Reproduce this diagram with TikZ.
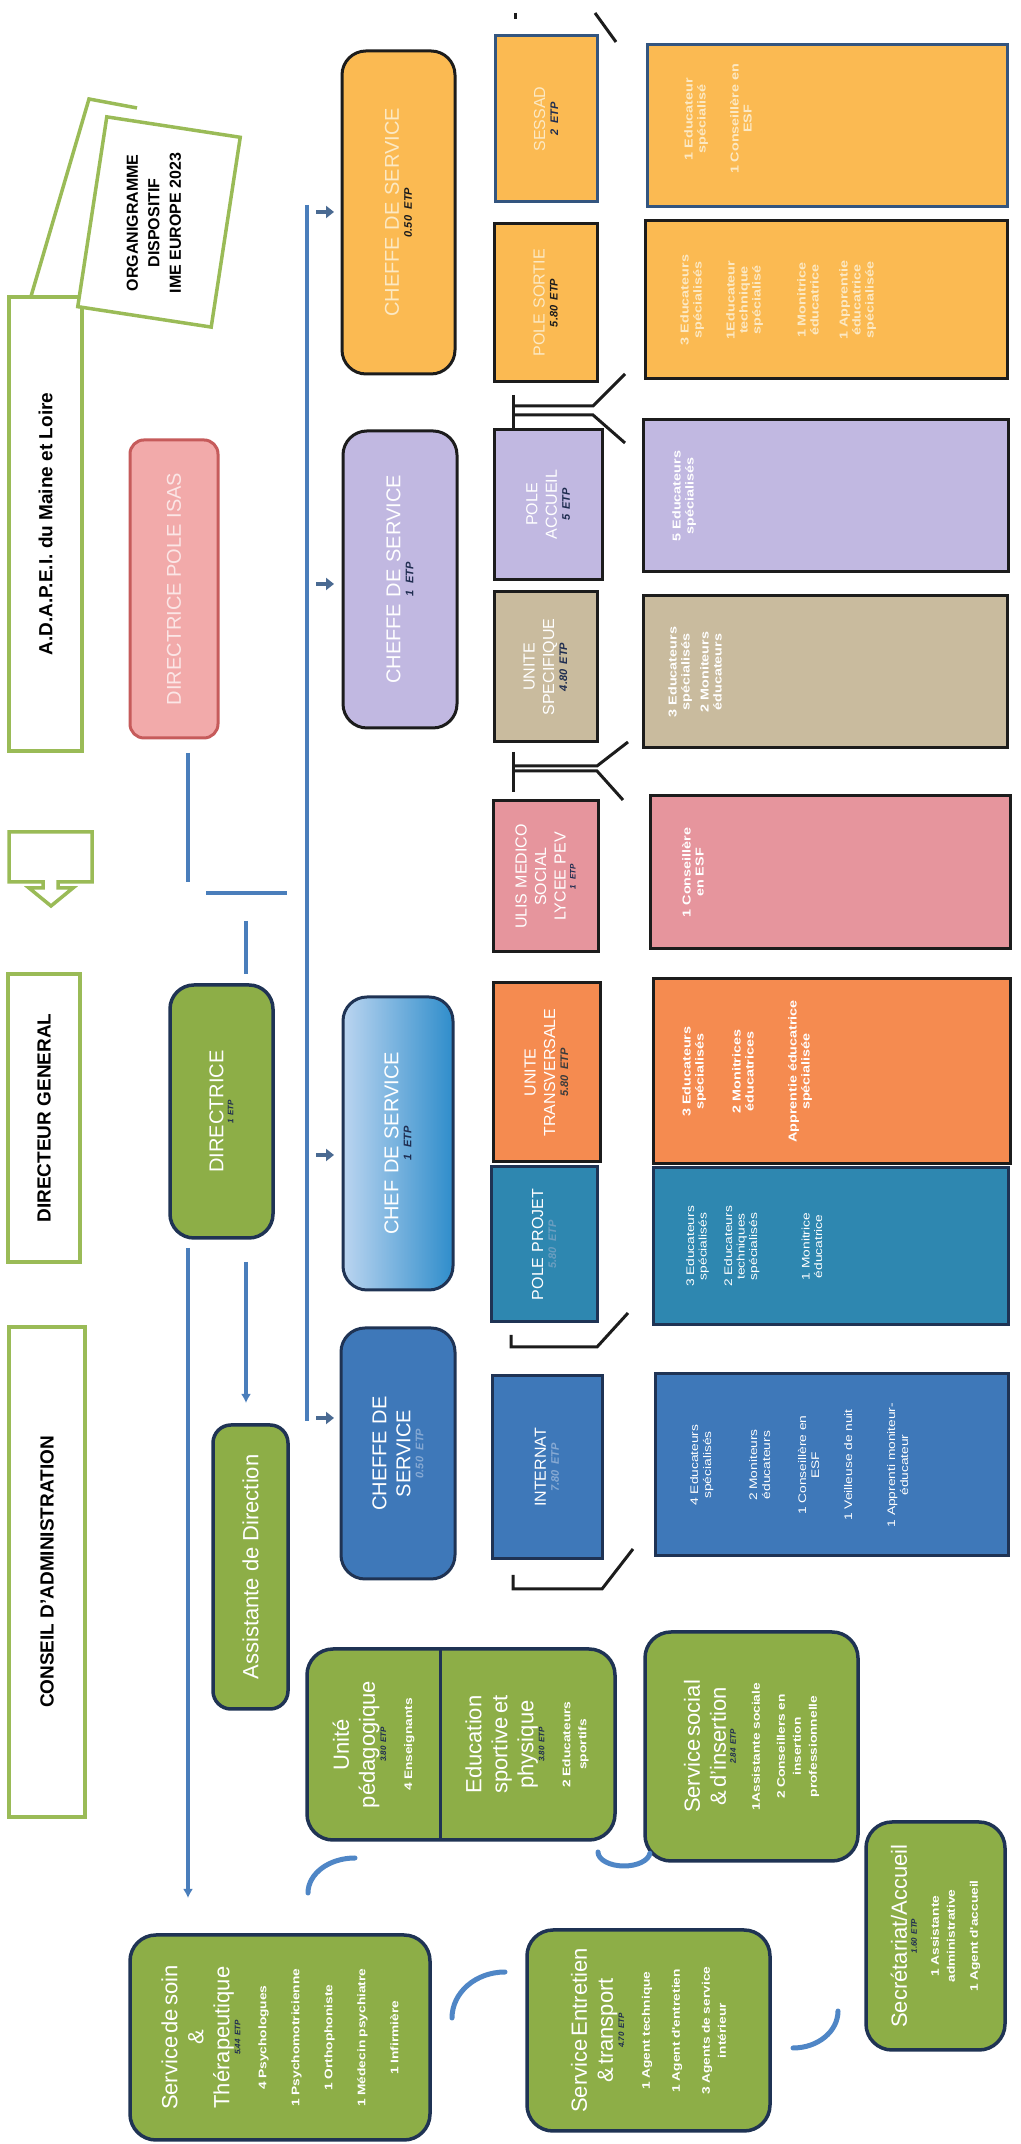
\documentclass[tikz,border=0pt]{standalone}
\usepackage{fontspec}
\setmainfont{Liberation Sans}
\newfontfamily\widesans{Liberation Sans}[FakeStretch=1.25]
\usetikzlibrary{arrows.meta}

\definecolor{framegreen}{HTML}{9ABB57}
\definecolor{boxgreen}{HTML}{8DAE47}
\definecolor{navyline}{HTML}{1F3354}
\definecolor{darkline}{HTML}{1C1C1C}
\definecolor{linkblue}{HTML}{4A7EBB}
\definecolor{arcblue}{HTML}{4F86C6}
\definecolor{tickblue}{HTML}{4A6A92}
\definecolor{etpnavy}{HTML}{1F2D50}
\definecolor{isaspink}{HTML}{F2AAAA}
\definecolor{isasred}{HTML}{C65B5B}
\definecolor{isastext}{HTML}{FBE6E6}
\definecolor{sunorange}{HTML}{FBBA52}
\definecolor{suntext}{HTML}{FCE9C4}
\definecolor{lavender}{HTML}{C1B8E1}
\definecolor{sand}{HTML}{C9BB9E}
\definecolor{rosepink}{HTML}{E6959D}
\definecolor{tangerine}{HTML}{F58B50}
\definecolor{projteal}{HTML}{2E87B0}
\definecolor{intblue}{HTML}{3E78B9}
\definecolor{sessadline}{HTML}{33557F}
\definecolor{skydeep}{HTML}{2F8DCB}
\definecolor{skylight}{HTML}{BBD5F0}
\definecolor{fadeblue}{HTML}{86A9D3}
\definecolor{fadeteal}{HTML}{6A9EC0}
\definecolor{greyetp}{HTML}{3C3C3C}

\newcommand{\etp}[2][etpnavy]{{\fontsize{8}{10}\selectfont\bfseries\itshape\color{#1}#2\par}}
\newcommand{\etpc}[2][etpnavy]{{\fontsize{11}{13}\selectfont\bfseries\itshape\color{#1}#2\par}}
\newcommand{\ttl}{\fontsize{22}{26}\selectfont}
\newcommand{\itm}{\widesans\fontsize{11}{16}\selectfont\bfseries}

\begin{document}
\begin{tikzpicture}[x=1pt, y=1pt,
        outerbox/.style={draw=framegreen, line width=3.5pt, fill=white, inner sep=0pt, font=\fontsize{19}{22}\selectfont\bfseries},
        greenbox/.style={draw=navyline, line width=3.5pt, fill=boxgreen, rounded corners=26pt, text=white, align=center, inner sep=0pt},
        chefbox/.style={draw=darkline, line width=3pt, rounded corners=24pt, text=white, align=center, inner sep=0pt, text width=230pt, font=\fontsize{20}{24}\selectfont},
        unitbox/.style={draw=darkline, line width=3pt, text=white, align=center, inner sep=0pt, text width=150pt, font=\fontsize{16}{19.5}\selectfont},
        staffbox/.style={draw=darkline, line width=3pt, inner sep=0pt},
        stafftext/.style={anchor=north, text=white, align=center, inner sep=0pt, text width=160pt, font=\widesans\fontsize{11.5}{13}\selectfont\bfseries},
        link/.style={draw=linkblue, line width=3.5pt},
        tick/.style={draw=tickblue, line width=4.5pt, -{Triangle[length=8pt,width=12pt]}},
        fork/.style={draw=darkline, line width=3pt},
        swoosh/.style={draw=arcblue, line width=5pt, line cap=round}]

\fill[white] (0,0) rectangle (1020,2144);
\useasboundingbox (0,0) rectangle (1020,2144);

\begin{scope}[shift={(1020,0)}, rotate=90, transform shape]

\draw[framegreen, line width=3.5pt] (1800,1003) -- (2045,931) -- (2036,883);

\node (conseil) [outerbox, minimum width=490pt, minimum height=76pt] at (572,973) {CONSEIL D'ADMINISTRATION};
\node (dg) [outerbox, minimum width=288pt, minimum height=72pt] at (1026,976) {DIRECTEUR GENERAL};
\node (adapei) [outerbox, minimum width=454pt, minimum height=73pt] at (1620,974.5) {A.D.A.P.E.I. du Maine et Loire};
\node (orgframe) [outerbox, rotate=-8.7, minimum width=192pt, minimum height=135pt] at (1922,861) {};
\node (orgtitle) [font=\fontsize{16}{21.5}\selectfont\bfseries, align=center] at (1921,866) {ORGANIGRAMME\\DISPOSITIF\\IME EUROPE 2023};

\draw[framegreen, line width=3.5pt] (1312,1011) -- (1312,928) -- (1262,928) -- (1262,962) -- (1256,962) -- (1256,947)
    -- (1238,969) -- (1256,991) -- (1256,977) -- (1262,977) -- (1262,1011) -- cycle;

\node (isas) [draw=isasred, fill=isaspink, line width=3pt, rounded corners=14pt, minimum width=298pt, minimum height=88pt,
    text=isastext, font=\fontsize{20}{24}\selectfont] at (1555,846) {DIRECTRICE POLE ISAS};
\node (dir) [greenbox, rounded corners=24pt, minimum width=253pt, minimum height=103pt, text width=240pt] at (1032.5,798.5)
    {{\fontsize{20}{24}\selectfont DIRECTRICE\par}\etp{1 ETP}};
\node (assist) [greenbox, rounded corners=18pt, minimum width=284pt, minimum height=75pt, font=\fontsize{22}{26}\selectfont] at (577,769.5) {Assistante de Direction};

\coordinate (isasfoot) at (1391,832);
\coordinate (isasend) at (1262,832);
\coordinate (barhi) at (1251,814);
\coordinate (barlo) at (1251,733);
\coordinate (dirtop) at (1223,774);
\coordinate (dirin) at (1170,774);
\coordinate (dirout) at (896,832);
\coordinate (soinin) at (246,832);
\coordinate (assout) at (882,774);
\coordinate (assin) at (741,774);
\coordinate (spineR) at (1939,713);
\coordinate (spineL) at (723,713);

\draw[link] (isasfoot) -- (isasend);
\draw[link] (barhi) -- (barlo);
\draw[link] (dirtop) -- (dirin);
\draw[link, -{Latex[length=9pt,width=10pt]}] (dirout) -- (soinin);
\draw[link, -{Latex[length=9pt,width=10pt]}] (assout) -- (assin);
\draw[link] (spineR) -- (spineL);

\draw[tick] (1932,704) -- (1932,686);
\draw[tick] (1560,704) -- (1560,686);
\draw[tick] (989,704) -- (989,686);
\draw[tick] (726,704) -- (726,686);

\node (chef1) [chefbox, fill=sunorange, text=suntext, minimum width=323pt, minimum height=113pt] at (1931.5,621.5)
    {CHEFFE DE SERVICE\par\etpc[darkline]{0.50 ETP}};
\node (chef2) [chefbox, fill=lavender, minimum width=297pt, minimum height=114pt] at (1564.5,620)
    {CHEFFE DE SERVICE\par\etpc{1 ETP}};
\node (chef3) [chefbox, draw=navyline, left color=skylight, right color=skydeep, minimum width=293pt, minimum height=110pt] at (1000.5,622)
    {CHEF DE SERVICE\par\etpc{1 ETP}};
\node (chef4) [chefbox, draw=navyline, fill=intblue, minimum width=251pt, minimum height=114pt] at (690.5,622)
    {CHEFFE DE\par SERVICE\par\etpc[fadeblue]{0.50 ETP}};

\node (sessad) [unitbox, draw=sessadline, fill=sunorange, text=suntext, minimum width=166pt, minimum height=102pt] at (2025,474)
    {SESSAD\par\etpc{2 ETP}};
\node (sortie) [unitbox, fill=sunorange, text=suntext, minimum width=158pt, minimum height=103pt] at (1841,474.5)
    {POLE SORTIE\par\etpc[darkline]{5.80 ETP}};
\node (accueil) [unitbox, fill=lavender, minimum width=133pt, minimum height=108pt] at (1639.5,472)
    {POLE\par ACCUEIL\par\etpc{5 ETP}};
\node (specif) [unitbox, fill=sand, minimum width=150pt, minimum height=103pt] at (1477,474.5)
    {UNITE\par SPECIFIQUE\par\etpc{4.80 ETP}};
\node (ulis) [unitbox, fill=rosepink, minimum width=151pt, minimum height=105pt] at (1267.5,474.5)
    {ULIS MEDICO\par SOCIAL\par LYCEE PEV\par\etp{1 ETP}};
\node (transv) [unitbox, fill=tangerine, minimum width=179pt, minimum height=107pt] at (1071.5,473.5)
    {UNITE\par TRANSVERSALE\par\etpc[greyetp]{5.80 ETP}};
\node (projet) [unitbox, draw=navyline, fill=projteal, minimum width=155pt, minimum height=106pt] at (899.5,476)
    {POLE PROJET\par\etpc[fadeteal]{5.80 ETP}};
\node (internat) [unitbox, draw=navyline, fill=intblue, minimum width=183pt, minimum height=110pt] at (676.5,473)
    {INTERNAT\par\etpc[fadeblue]{7.80 ETP}};

\node (sessadstaff) [staffbox, draw=sessadline, fill=sunorange, minimum width=162pt, minimum height=360pt] at (2018,193) {};
\node (sortiestaff) [staffbox, fill=sunorange, minimum width=158pt, minimum height=362pt] at (1844,194) {};
\node (accueilstaff) [staffbox, fill=lavender, minimum width=152pt, minimum height=365pt] at (1648,194.5) {};
\node (specifstaff) [staffbox, fill=sand, minimum width=152pt, minimum height=364pt] at (1472,195) {};
\node (ulisstaff) [staffbox, fill=rosepink, minimum width=153pt, minimum height=360pt] at (1271.5,190) {};
\node (transvstaff) [staffbox, fill=tangerine, minimum width=185pt, minimum height=357pt] at (1072.5,188.5) {};
\node (projetstaff) [staffbox, draw=navyline, fill=projteal, minimum width=157pt, minimum height=355pt] at (897.5,189.5) {};
\node (internatstaff) [staffbox, draw=navyline, fill=intblue, minimum width=182pt, minimum height=353pt] at (679,188.5) {};

\node (sessadlist) [stafftext, text=suntext] at (2025,336)
    {1 Educateur\\spécialisé\\[20pt]1 Conseillère en\\ESF};
\node (sortielist) [stafftext, text=suntext] at (1844,340)
    {3 Educateurs\\spécialisés\\[20pt]1Educateur\\technique\\spécialisé\\[32pt]1 Monitrice\\éducatrice\\[16pt]1 Apprentie\\éducatrice\\spécialisée};
\node (accueillist) [stafftext] at (1648,348) {5 Educateurs\\spécialisés};
\node (speciflist) [stafftext] at (1472,352) {3 Educateurs\\spécialisés\\[6pt]2 Moniteurs\\éducateurs};
\node (ulislist) [stafftext] at (1271.5,338) {1 Conseillère\\en ESF};
\node (transvlist) [stafftext] at (1072.5,338)
    {3 Educateurs\\spécialisés\\[24pt]2 Monitrices\\éducatrices\\[30pt]Apprentie éducatrice\\spécialisée};
\node (projetlist) [stafftext, font=\widesans\fontsize{11}{12.5}\selectfont] at (897.5,334)
    {3 Educateurs\\spécialisés\\[13pt]2 Educateurs\\techniques\\spécialisés\\[40pt]1 Monitrice\\éducatrice};
\node (internatlist) [stafftext, font=\widesans\fontsize{11}{13}\selectfont] at (679,330)
    {4 Educateurs\\spécialisés\\[33pt]2 Moniteurs\\éducateurs\\[23pt]1 Conseillère en\\ESF\\[20pt]1 Veilleuse de nuit\\[30pt]1 Apprenti moniteur-\\éducateur};

\draw[fork] (2131,505) -- (2125,505);
\draw[fork] (2131,425) -- (2102,404);
\draw[fork] (1749,507) -- (1715,507);
\draw[fork] (1738,507) -- (1738,427) -- (1770,395);
\draw[fork] (1729,507) -- (1729,427) -- (1701,395);
\draw[fork] (1392,507) -- (1352,507);
\draw[fork] (1378,507) -- (1378,423) -- (1402,392);
\draw[fork] (1373,507) -- (1373,423) -- (1344,397);
\draw[fork] (809,509) -- (797,509) -- (797,423) -- (831,392);
\draw[fork] (569,507) -- (555,507) -- (555,418) -- (595,387);

\node (soin) [greenbox, minimum width=205pt, minimum height=300pt, text width=195pt] at (106.5,740)
    {{\ttl Service de soin\par\&\par Thérapeutique\par}\etp{5.44 ETP}\vspace{10pt}
     {\itm 4 Psychologues\par\vspace{17pt}1 Psychomotricienne\par\vspace{17pt}1 Orthophoniste\par\vspace{17pt}1 Médecin psychiatre\par\vspace{17pt}1 Infirmière\par}};
\node (peda) [greenbox, minimum width=191pt, minimum height=308pt] at (399.5,559) {};
\draw[navyline, line width=3pt] (304,580) -- (495,580);
\node (pedatext) [text=white, align=center, text width=180pt, inner sep=0pt] at (399.5,646.5)
    {{\ttl Unité\par pédagogique\par}\etp{3.80 ETP}\vspace{10pt}{\itm 4 Enseignants\par}};
\node (sporttext) [text=white, align=center, text width=180pt, inner sep=0pt] at (399.5,493)
    {{\ttl Education\par sportive et\par physique\par}\etp{3.80 ETP}\vspace{10pt}{\itm 2 Educateurs\par sportifs\par}};
\node (social) [greenbox, minimum width=229pt, minimum height=213pt, text width=215pt] at (397.5,268.5)
    {{\ttl Service social\par\& d'insertion\par}\etp{2.84 ETP}\vspace{8pt}
     {\itm 1Assistante sociale\par\vspace{9pt}2 Conseillers en\par insertion\par professionnelle\par}};
\node (entretien) [greenbox, minimum width=201pt, minimum height=243pt, text width=190pt] at (113.5,371.5)
    {{\ttl Service Entretien\par\& transport\par}\etp{4.70 ETP}\vspace{10pt}
     {\itm 1 Agent technique\par\vspace{14pt}1 Agent d'entretien\par\vspace{14pt}3 Agents de service\par intérieur\par}};
\node (secret) [greenbox, minimum width=228pt, minimum height=139pt, text width=215pt] at (208,84.5)
    {{\ttl Secrétariat/Accueil\par}\etp{1.60 ETP}\vspace{6pt}
     {\itm 1 Assistante\par administrative\par\vspace{7pt}1 Agent d'accueil\par}};

\draw[swoosh] (286,665) arc[start angle=0, end angle=90, x radius=35pt, y radius=47pt];
\draw[swoosh] (172,515) arc[start angle=0, end angle=90, x radius=46pt, y radius=53pt];
\draw[swoosh] (292,422) arc[start angle=90, end angle=265, x radius=14pt, y radius=26pt];
\draw[swoosh] (133,182) arc[start angle=270, end angle=180, x radius=37pt, y radius=45pt];

\end{scope}
\end{tikzpicture}
\end{document}
